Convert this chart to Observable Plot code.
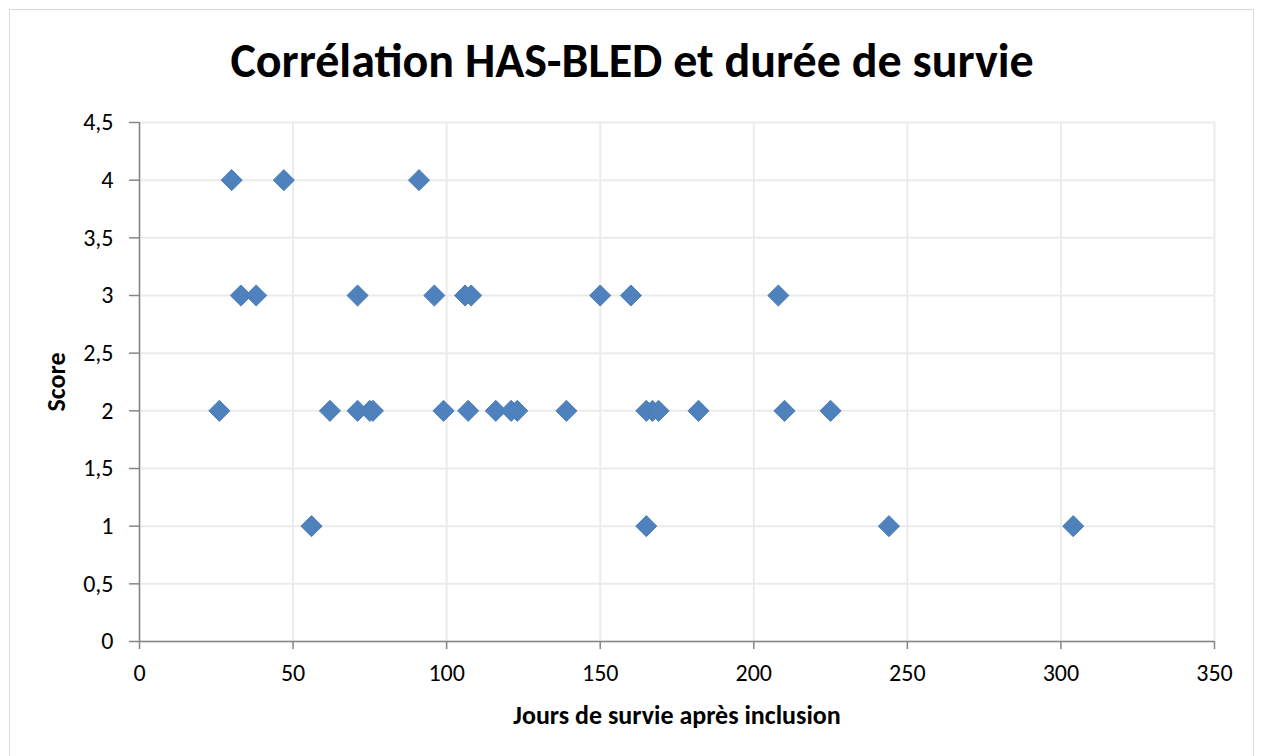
<!DOCTYPE html>
<html>
<head>
<meta charset="utf-8">
<script src="https://cdn.jsdelivr.net/npm/d3@7"></script>
<script src="https://cdn.jsdelivr.net/npm/@observablehq/plot@0.6"></script>
<style>
  html, body { margin: 0; padding: 0; background: #fff; }
  #wrap { position: relative; width: 1264px; height: 756px; overflow: hidden; font-family: Carlito, Calibri, Lato, sans-serif; }
  #frame { position: absolute; left: 9px; top: 9px; width: 1245px; height: 760px; border: 1px solid #d9d9d9; box-sizing: border-box; }
  #title { position: absolute; left: 0; top: 0; width: 1264px; height: 95px; line-height: 95px; padding-top: 13px; box-sizing: border-box; text-align: center; font-weight: 700; font-size: 48px; color: #000; }
  #chart { position: absolute; left: 0; top: 95px; }
</style>
</head>
<body>
<div id="wrap">
  <div id="frame"></div>
  <div id="title">Corrélation HAS-BLED et durée de survie</div>
  <div id="chart"></div>
</div>
<script>
// Survival days after inclusion and HAS-BLED score
const days   = [30, 47, 91,
                33, 38, 71, 96, 106, 108, 150, 160, 208,
                26, 62, 71, 75, 76, 99, 107, 116, 121, 123, 139, 165, 167, 169, 182, 210, 225,
                56, 165, 244, 304];
const scores = [4, 4, 4,
                3, 3, 3, 3, 3, 3, 3, 3, 3,
                2, 2, 2, 2, 2, 2, 2, 2, 2, 2, 2, 2, 2, 2, 2, 2, 2,
                1, 1, 1, 1];
const xTicks = [0, 50, 100, 150, 200, 250, 300, 350];
const yTicks = [0, 0.5, 1, 1.5, 2, 2.5, 3, 3.5, 4, 4.5];
const xTitle = "Jours de survie après inclusion";
const yTitle = "Score";

const data = days.map((d, i) => ({days: d, score: scores[i]}));
const fmt = d => String(d).replace(".", ",");

const chart = Plot.plot({
  width: 1264,
  height: 661,
  marginLeft: 139,
  marginRight: 50,
  marginTop: 27,
  marginBottom: 115,
  style: {fontFamily: "Carlito, Calibri, Lato, sans-serif", fontSize: "24px", color: "#000", background: "transparent"},
  x: {domain: [0, 350]},
  y: {domain: [0, 4.5]},
  marks: [
    Plot.gridY(yTicks, {stroke: "#ebebeb", strokeOpacity: 1, strokeWidth: 2}),
    Plot.gridX(xTicks, {stroke: "#ebebeb", strokeOpacity: 1, strokeWidth: 2}),
    Plot.axisY(yTicks, {tickFormat: fmt, tickSize: 10, tickPadding: 16, stroke: "#868686", strokeWidth: 1.5,
      label: yTitle, labelAnchor: "center", labelArrow: "none", labelOffset: 93}),
    Plot.axisX(xTicks, {tickFormat: d => String(d), tickSize: 8, tickPadding: 14, stroke: "#868686", strokeWidth: 1.5,
      label: xTitle, labelAnchor: "center", labelArrow: "none", labelOffset: 82}),
    Plot.ruleY([0], {stroke: "#868686", strokeWidth: 1.5}),
    Plot.ruleX([0], {stroke: "#868686", strokeWidth: 1.5}),
    Plot.dot(data, {x: "days", y: "score", symbol: "diamond2", r: 9.5, fill: "#4f81bd", stroke: "#4a7ebb", strokeWidth: 1})
  ]
});
chart.querySelectorAll("text").forEach(t => {
  const s = t.textContent;
  if (s === xTitle || s === yTitle) {
    t.style.fontSize = "26px";
    t.style.fontWeight = "700";
  } else {
    t.style.fontSize = "24px";
  }
});
document.getElementById("chart").appendChild(chart);
</script>
</body>
</html>
